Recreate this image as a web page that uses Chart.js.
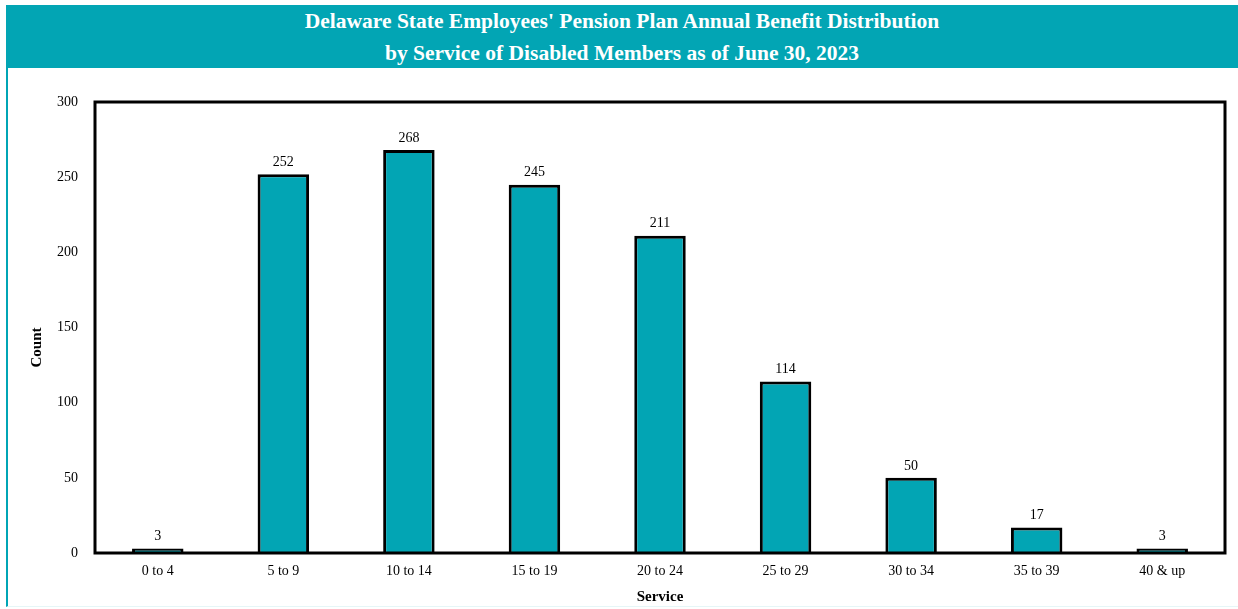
<!DOCTYPE html>
<html>
<head>
<meta charset="utf-8">
<script src="https://cdn.jsdelivr.net/npm/chart.js@4"></script>
<style>
  body { margin: 0; background: #fff; width: 1238px; height: 609px; overflow: hidden; }
  #frame { position: absolute; left: 6px; top: 5px; width: 1232px; height: 601px; border-left: 2px solid #00A5B5; border-bottom: 1px solid #e6f6f7; }
  #band { position: absolute; left: 6px; top: 5px; width: 1232px; height: 63px; background: #02A5B4; color: #fff;
          font-family: "Liberation Serif", "Times New Roman", serif; font-weight: bold; font-size: 21.5px; text-align: center; line-height: 32px; padding-top: 0px; box-sizing: border-box; }
  #wrap { position: absolute; left: 8px; top: 68px; width: 1230px; height: 539px; }
</style>
</head>
<body>
<div id="frame"></div>
<div id="band">Delaware State Employees' Pension Plan Annual Benefit Distribution<br>by Service of Disabled Members as of June 30, 2023</div>
<div id="wrap"><canvas id="grafico"></canvas></div>
<script>
const categorias = ['0 to 4', '5 to 9', '10 to 14', '15 to 19', '20 to 24', '25 to 29', '30 to 34', '35 to 39', '40 & up'];
const contagem = [3, 252, 268, 245, 211, 114, 50, 17, 3];
const ticksY = [0, 50, 100, 150, 200, 250, 300];

const fonte = '"Liberation Serif", "Times New Roman", serif';

const ctx = document.getElementById('grafico').getContext('2d');

new Chart(ctx, {
    type: 'bar',
    data: {
        labels: categorias,
        datasets: [{
            label: 'Count',
            data: contagem,
            backgroundColor: '#02A5B4',
            borderColor: '#000',
            borderWidth: 3,
            barPercentage: 0.41,
            categoryPercentage: 1
        }]
    },
    options: {
        responsive: true,
        maintainAspectRatio: false,
        animation: false,
        layout: { padding: { top: 34, right: 13, left: 0, bottom: 0 } },
        plugins: {
            legend: { display: false },
            tooltip: { enabled: false }
        },
        scales: {
            x: {
                grid: { display: false, drawTicks: false },
                border: { display: false },
                ticks: { color: '#000', font: { family: fonte, size: 14 }, padding: 10 },
                title: { display: true, text: 'Service', color: '#000', font: { family: fonte, size: 15, weight: 'bold' }, padding: { top: 4, bottom: 1 } },
                afterFit(scale) { scale.height = 54; }
            },
            y: {
                min: 0,
                max: 300,
                afterBuildTicks(scale) { scale.ticks = ticksY.map(v => ({ value: v })); },
                grid: { display: false, drawTicks: false },
                border: { display: false },
                ticks: { color: '#000', font: { family: fonte, size: 14 }, padding: 17 },
                title: { display: false },
                afterFit(scale) { scale.width = 87; }
            }
        }
    },
    plugins: [{
        // moldura da área do gráfico, título do eixo Y e rótulos das barras
        id: 'moldura',
        afterDraw(chart) {
            const { ctx, chartArea } = chart;
            ctx.save();
            ctx.strokeStyle = '#000';
            ctx.lineWidth = 3;
            ctx.strokeRect(chartArea.left, chartArea.top, chartArea.right - chartArea.left, chartArea.bottom - chartArea.top);

            ctx.fillStyle = '#000';
            ctx.textAlign = 'center';
            ctx.textBaseline = 'middle';
            ctx.save();
            ctx.translate(29, (chartArea.top + chartArea.bottom) / 2 + 20);
            ctx.rotate(-Math.PI / 2);
            ctx.font = 'bold 15px ' + fonte;
            ctx.fillText('Count', 0, 0);
            ctx.restore();

            ctx.font = '14px ' + fonte;
            ctx.textBaseline = 'bottom';
            chart.getDatasetMeta(0).data.forEach((bar, i) => {
                ctx.fillText(contagem[i], bar.x, bar.y - 5);
            });
            ctx.restore();
        }
    }]
});
</script>
</body>
</html>
